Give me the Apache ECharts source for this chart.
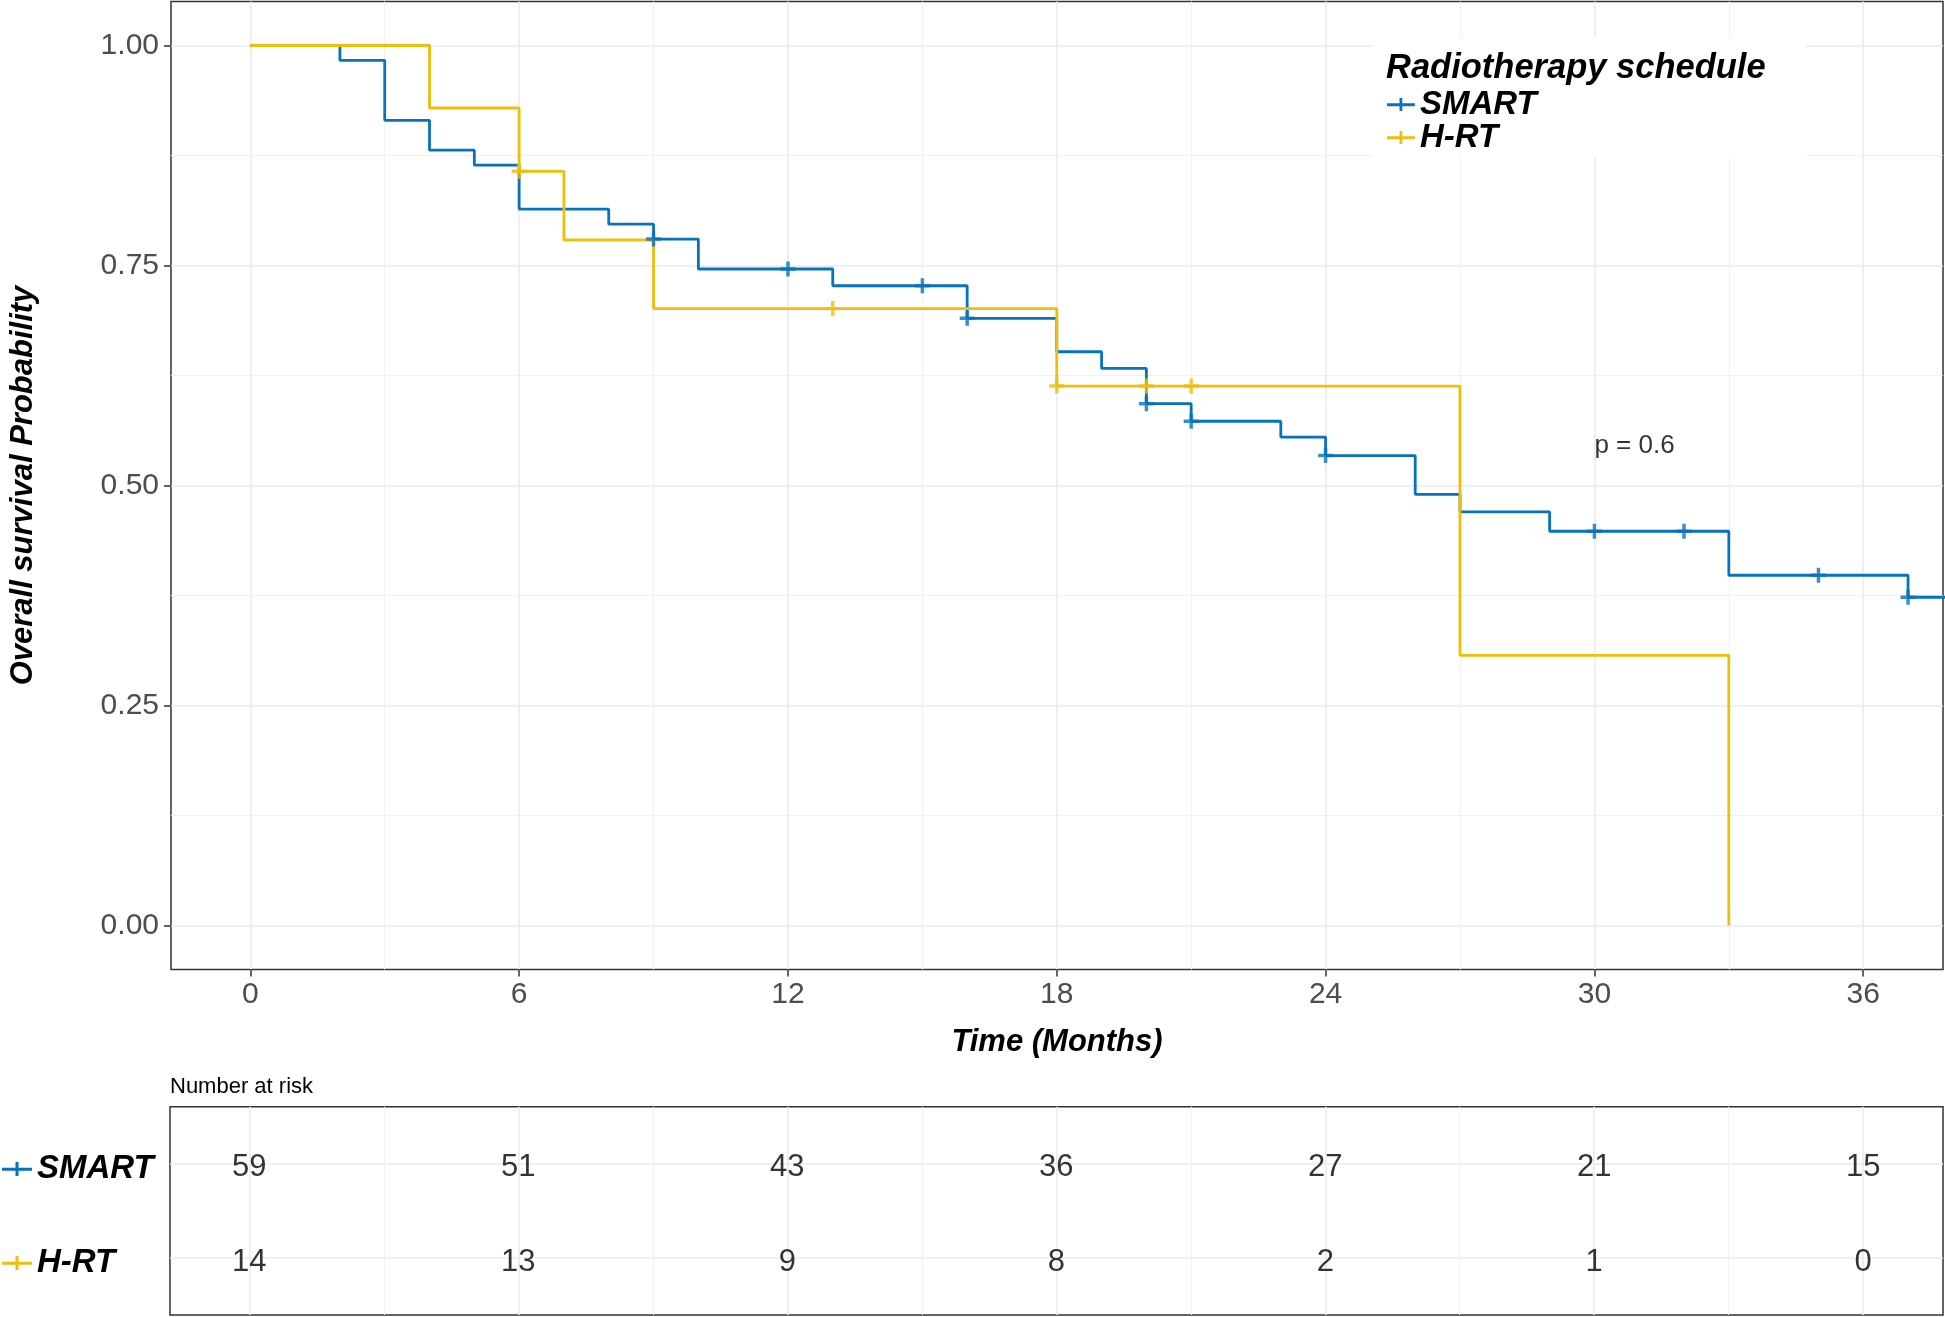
<!DOCTYPE html>
<html>
<head>
<meta charset="utf-8">
<script src="https://cdn.jsdelivr.net/npm/echarts@6/dist/echarts.min.js"></script>
<style>
html,body{margin:0;padding:0;background:#fff;}
#chart{width:1945px;height:1317px;}
</style>
</head>
<body>
<div id="chart"></div>
<script>
// ---- Data ----
const groups = ['SMART', 'H-RT'];
const smartTime = [0, 2, 3, 4, 5, 6, 8, 9, 10, 13, 16, 18, 19, 20, 21, 23, 24, 26, 27, 29, 33, 37, 38];
const smartSurv = [1, 0.983, 0.915, 0.881, 0.864, 0.814, 0.797, 0.780, 0.746, 0.727, 0.690, 0.652, 0.633, 0.593, 0.573, 0.555, 0.534, 0.490, 0.470, 0.448, 0.398, 0.373, 0.373];
const smartCensorTime = [9, 12, 15, 16, 20, 21, 24, 30, 32, 35, 37];
const smartCensorSurv = [0.780, 0.746, 0.727, 0.690, 0.593, 0.573, 0.534, 0.448, 0.448, 0.398, 0.373];
const hrtTime = [0, 4, 6, 7, 9, 18, 27, 33];
const hrtSurv = [1, 0.929, 0.857, 0.779, 0.701, 0.613, 0.307, 0];
const hrtCensorTime = [6, 13, 18, 20, 21];
const hrtCensorSurv = [0.857, 0.701, 0.613, 0.613, 0.613];
const riskTimes = [0, 6, 12, 18, 24, 30, 36];
const smartRisk = [59, 51, 43, 36, 27, 21, 15];
const hrtRisk = [14, 13, 9, 8, 2, 1, 0];
const xMajorTicks = [0, 6, 12, 18, 24, 30, 36];
const xMinorTicks = [3, 9, 15, 21, 27, 33];
const yMajorTicks = [0, 0.25, 0.5, 0.75, 1];
const yMinorTicks = [0.125, 0.375, 0.625, 0.875];
const pText = 'p = 0.6';
const pPos = [30, 0.547];

// ---- Styling ----
const FONT = "'Liberation Sans', Arial, sans-serif";
const BLUE = '#0872BD';
const YELLOW = '#EDBE0A';
const plusPath = 'path://M0,5 L13,5 L13,8 L0,8 Z M5,0 L8,0 L8,13 L5,13 Z';
const legendIcon = 'path://M0,5.75 L30,5.75 L30,8.75 L0,8.75 Z M13.5,0 L16.5,0 L16.5,14 L13.5,14 Z';
const XMIN = -1.77, XMAX = 37.78;

const zip = (a, b) => a.map((v, i) => [v, b[i]]);

const majorLine = {show: true, lineStyle: {color: '#ebebeb', width: 1.6}};
const minorLine = {show: true, lineStyle: {color: '#f1f1f1', width: 1.0}};
const boldItalic = {fontFamily: FONT, fontWeight: 'bold', fontStyle: 'italic', color: '#000'};
const hiddenLine = {show: false, onZero: false};

const chart = echarts.init(document.getElementById('chart'), null, {renderer: 'canvas'});

const option = {
  animation: false,
  backgroundColor: '#fff',
  textStyle: {fontFamily: FONT},
  title: [
    {
      text: 'Radiotherapy schedule',
      left: 1373, top: 38,
      padding: [13, 40, 72, 13],
      backgroundColor: '#fff',
      textStyle: Object.assign({fontSize: 34.5, lineHeight: 34}, boldItalic),
      z: 5
    },
    {
      text: 'Number at risk',
      left: 170, top: 1076, padding: 0,
      textStyle: {fontFamily: FONT, fontSize: 22, fontWeight: 'normal', color: '#000', lineHeight: 22}
    }
  ],
  legend: [
    {
      data: groups, orient: 'vertical', left: 1387, top: 88, padding: 0,
      itemWidth: 28, itemHeight: 13, itemGap: 0, icon: legendIcon,
      textStyle: Object.assign({fontSize: 33, lineHeight: 31}, boldItalic),
      itemStyle: {borderWidth: 0}, z: 10, selectedMode: false
    },
    {
      data: groups, orient: 'vertical', left: 2, top: 1149, padding: 0,
      itemWidth: 30, itemHeight: 14, itemGap: 54, icon: legendIcon,
      textStyle: Object.assign({fontSize: 33, lineHeight: 40}, boldItalic),
      itemStyle: {borderWidth: 0}, z: 10, selectedMode: false
    }
  ],
  grid: [
    {left: 170, top: 1.5, width: 1773, height: 968, show: true, borderColor: '#333', borderWidth: 1.5, backgroundColor: 'transparent'},
    {left: 170, top: 1106.7, width: 1773, height: 208.3, show: true, borderColor: '#333', borderWidth: 1.5, backgroundColor: 'transparent'}
  ],
  xAxis: [
    {
      gridIndex: 0, type: 'value', min: XMIN, max: XMAX, position: 'bottom',
      axisLine: hiddenLine,
      axisTick: {show: true, customValues: xMajorTicks, length: 7, inside: false, lineStyle: {color: '#333', width: 1.5}},
      axisLabel: {show: true, customValues: xMajorTicks, fontSize: 30, color: '#4d4d4d', margin: 10, fontFamily: FONT},
      splitLine: majorLine,
      name: 'Time (Months)', nameLocation: 'middle', nameGap: 57,
      nameTextStyle: Object.assign({fontSize: 31}, boldItalic)
    },
    {
      gridIndex: 0, type: 'value', min: XMIN, max: XMAX, position: 'top',
      axisLine: hiddenLine,
      axisTick: {show: false, customValues: xMinorTicks},
      axisLabel: {show: false, customValues: xMinorTicks},
      splitLine: minorLine
    },
    {
      gridIndex: 1, type: 'value', min: XMIN, max: XMAX, position: 'bottom',
      axisLine: hiddenLine,
      axisTick: {show: false, customValues: xMajorTicks},
      axisLabel: {show: false, customValues: xMajorTicks},
      splitLine: majorLine
    },
    {
      gridIndex: 1, type: 'value', min: XMIN, max: XMAX, position: 'top',
      axisLine: hiddenLine,
      axisTick: {show: false, customValues: xMinorTicks},
      axisLabel: {show: false, customValues: xMinorTicks},
      splitLine: minorLine
    }
  ],
  yAxis: [
    {
      gridIndex: 0, type: 'value', min: -0.05, max: 1.05, position: 'left',
      axisLine: hiddenLine,
      axisTick: {show: true, customValues: yMajorTicks, length: 7, inside: false, lineStyle: {color: '#333', width: 1.5}},
      axisLabel: {show: true, customValues: yMajorTicks, fontSize: 30, color: '#4d4d4d', margin: 12, fontFamily: FONT,
                  formatter: v => Number(v).toFixed(2)},
      splitLine: majorLine,
      name: 'Overall survival Probability', nameLocation: 'middle', nameGap: 132, nameRotate: 90,
      nameTextStyle: Object.assign({fontSize: 31}, boldItalic)
    },
    {
      gridIndex: 0, type: 'value', min: -0.05, max: 1.05, position: 'right',
      axisLine: hiddenLine,
      axisTick: {show: false, customValues: yMinorTicks},
      axisLabel: {show: false, customValues: yMinorTicks},
      splitLine: minorLine
    },
    {
      gridIndex: 1, type: 'value', min: 0.4, max: 2.6, position: 'left',
      axisLine: hiddenLine,
      axisTick: {show: false, customValues: [1, 2]},
      axisLabel: {show: false, customValues: [1, 2]},
      splitLine: majorLine
    }
  ],
  series: [
    {
      name: 'SMART', type: 'line', step: 'end', xAxisIndex: 0, yAxisIndex: 0,
      data: zip(smartTime, smartSurv), showSymbol: false, symbol: 'none',
      lineStyle: {color: BLUE, width: 2.8}, itemStyle: {color: BLUE}, z: 3
    },
    {
      name: 'H-RT', type: 'line', step: 'end', xAxisIndex: 0, yAxisIndex: 0,
      data: zip(hrtTime, hrtSurv), showSymbol: false, symbol: 'none',
      lineStyle: {color: YELLOW, width: 2.8}, itemStyle: {color: YELLOW}, z: 3
    },
    {
      name: 'SMART censored', type: 'scatter', xAxisIndex: 0, yAxisIndex: 0,
      data: zip(smartCensorTime, smartCensorSurv), symbol: plusPath, symbolSize: 15,
      itemStyle: {color: BLUE}, z: 4
    },
    {
      name: 'H-RT censored', type: 'scatter', xAxisIndex: 0, yAxisIndex: 0,
      data: zip(hrtCensorTime, hrtCensorSurv), symbol: plusPath, symbolSize: 15,
      itemStyle: {color: YELLOW}, z: 4
    },
    {
      name: 'p-value', type: 'scatter', xAxisIndex: 0, yAxisIndex: 0,
      data: [pPos], symbolSize: 0, silent: true,
      label: {show: true, position: 'right', distance: 0, formatter: pText,
              fontSize: 26, color: '#000', fontFamily: FONT, offset: [0, 2]}
    },
    {
      name: 'SMART risk', type: 'scatter', xAxisIndex: 2, yAxisIndex: 2,
      data: riskTimes.map((t, i) => [t, 2, smartRisk[i]]), symbolSize: 0, silent: true,
      label: {show: true, position: 'inside', formatter: p => String(p.value[2]), offset: [0, 4],
              fontSize: 31, color: '#000', fontFamily: FONT}
    },
    {
      name: 'H-RT risk', type: 'scatter', xAxisIndex: 2, yAxisIndex: 2,
      data: riskTimes.map((t, i) => [t, 1, hrtRisk[i]]), symbolSize: 0, silent: true,
      label: {show: true, position: 'inside', formatter: p => String(p.value[2]), offset: [0, 4],
              fontSize: 31, color: '#000', fontFamily: FONT}
    }
  ]
};
chart.setOption(option);
</script>
</body>
</html>
